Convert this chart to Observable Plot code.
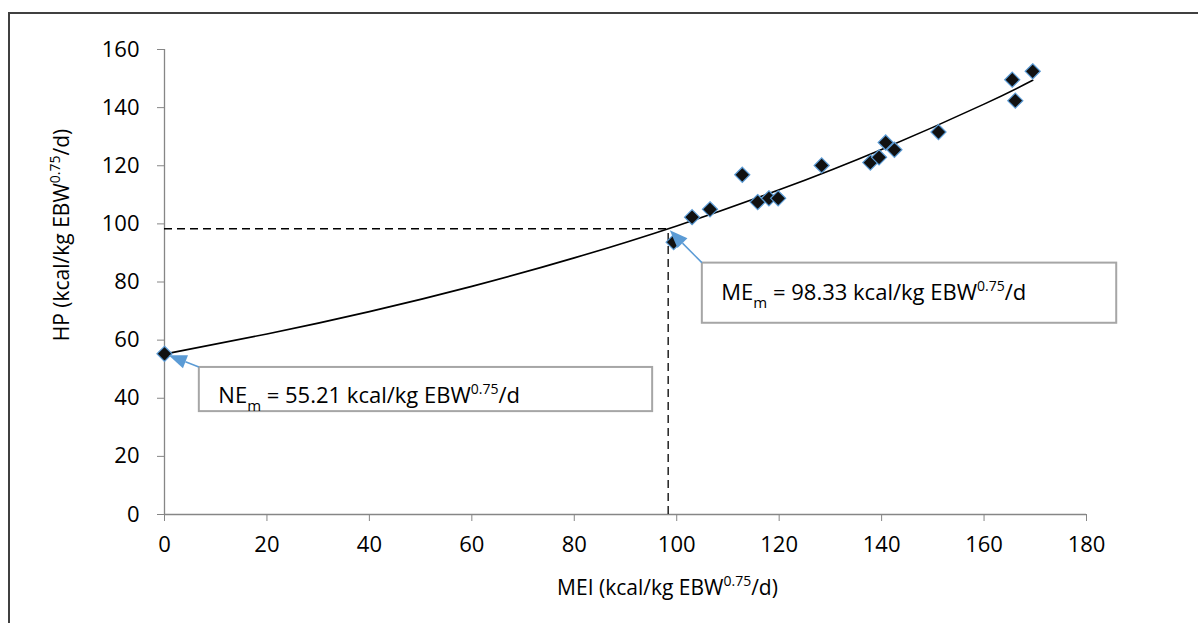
<!DOCTYPE html>
<html>
<head>
<meta charset="utf-8">
<script src="https://cdn.jsdelivr.net/npm/d3@7"></script>
<script src="https://cdn.jsdelivr.net/npm/@observablehq/plot@0.6"></script>
<style>
  html, body { margin: 0; padding: 0; background: #fff; }
  #wrap { position: relative; width: 1198px; height: 623px; overflow: hidden; background: #fff; }
  #frame { position: absolute; left: 8px; top: 12px; width: 1400px; height: 800px;
           border-top: 2px solid #404040; border-left: 2px solid #404040; pointer-events: none; }
  #chart { position: absolute; left: 0; top: 0; }
</style>
</head>
<body>
<div id="wrap"><div id="chart"></div><div id="frame"></div></div>
<script>
// ---- data ----
const MEI = [0, 99.4, 103.0, 106.5, 112.8, 115.8, 118.0, 119.8, 128.3, 137.8, 139.5, 140.8, 142.5, 151.1, 165.5, 166.1, 169.5];
const HP  = [55.3, 93.7, 102.3, 105.0, 116.9, 107.5, 108.8, 108.8, 120.1, 121.1, 122.9, 128.0, 125.5, 131.6, 149.6, 142.4, 152.5];
const fitMEI = [0, 20, 40, 60, 80, 100, 120, 140, 160, 169.5];
const fitHP  = [55.2, 62.1, 69.8, 78.5, 88.3, 99.3, 111.7, 125.6, 141.2, 149.4];
const xTicks = [0, 20, 40, 60, 80, 100, 120, 140, 160, 180];
const yTicks = [0, 20, 40, 60, 80, 100, 120, 140, 160];
const NEm = 55.21;
const MEm = 98.33;
const xTitle = "MEI (kcal/kg EBW^{0.75}/d)";
const yTitle = "HP (kcal/kg EBW^{0.75}/d)";
const noteLabels = ["NE_{m} = 55.21 kcal/kg EBW^{0.75}/d", "ME_{m} = 98.33 kcal/kg EBW^{0.75}/d"];

// ---- tables built from the arrays ----
const points = MEI.map((x, i) => ({x, y: HP[i]}));
const fit = fitMEI.map((x, i) => ({x, y: fitHP[i]}));

// annotation boxes (layout, in data units) and what they point at
const notes = [
  {label: noteLabels[0], x1: 6.8, x2: 95.3, y1: 35.4, y2: 50.6, tx: 0, ty: NEm, off: 5},
  {label: noteLabels[1], x1: 105.0, x2: 185.9, y1: 65.8, y2: 86.5, tx: MEm, ty: MEm, off: 3}
];

const arrows = (index, scales) => {
  const g = d3.create("svg:g");
  for (const n of notes) {
    const ax = scales.x(n.x1), ay = scales.y(n.y2);
    const px = scales.x(n.tx), py = scales.y(n.ty);
    const L = Math.hypot(ax - px, ay - py);
    const ux = (ax - px) / L, uy = (ay - py) / L;
    const tipx = px + ux * n.off, tipy = py + uy * n.off;
    const hl = 18, hw = 7;
    const bx = tipx + ux * hl, by = tipy + uy * hl;
    g.append("line").attr("x1", ax).attr("y1", ay).attr("x2", bx).attr("y2", by)
      .attr("stroke", "#5b9bd5").attr("stroke-width", 1.5);
    g.append("path")
      .attr("d", `M${tipx},${tipy}L${bx - uy * hw},${by + ux * hw}L${bx + uy * hw},${by - ux * hw}Z`)
      .attr("fill", "#5b9bd5");
  }
  return g.node();
};

const FONT = "'Open Sans', 'Noto Sans', sans-serif";
const FS = 22;
const TFS = 21;

const chart = Plot.plot({
  width: 1198,
  height: 623,
  marginLeft: 164,
  marginRight: 112,
  marginTop: 49,
  marginBottom: 109,
  x: {domain: [0, 180]},
  y: {domain: [0, 160]},
  style: {fontFamily: FONT, fontSize: FS + "px", color: "#000", background: "transparent", overflow: "visible"},
  marks: [
    Plot.ruleY([0], {stroke: "#868686", strokeWidth: 1.3}),
    Plot.ruleX([0], {stroke: "#868686", strokeWidth: 1.3}),
    Plot.axisX(xTicks, {tickSize: 7, tickPadding: 15, stroke: "#868686", fill: "#000", fontSize: FS, label: null}),
    Plot.axisY(yTicks, {tickSize: 7, tickPadding: 18, stroke: "#868686", fill: "#000", fontSize: FS, label: null}),
    Plot.ruleY([MEm], {x1: 0, x2: MEm, stroke: "#000", strokeWidth: 1.3, strokeDasharray: "8,5"}),
    Plot.ruleX([MEm], {y1: 0, y2: MEm, stroke: "#000", strokeWidth: 1.3, strokeDasharray: "8,5"}),
    Plot.line(fit, {x: "x", y: "y", curve: "natural", stroke: "#000", strokeWidth: 1.6}),
    Plot.dot(points, {x: "x", y: "y", symbol: "diamond2", r: 6.8, fill: "#111", stroke: "#5b9bd5", strokeWidth: 1.2}),
    Plot.rect(notes, {x1: "x1", x2: "x2", y1: "y1", y2: "y2", fill: "#fff", stroke: "#a6a6a6", strokeWidth: 2, clip: false}),
    arrows,
    Plot.text([notes[0]], {x: "x1", y: (d) => (d.y1 + d.y2) / 2, text: "label", textAnchor: "start", dx: 19, dy: 6, fontSize: FS, fill: "#000"}),
    Plot.text([notes[1]], {x: "x1", y: (d) => (d.y1 + d.y2) / 2, text: "label", textAnchor: "start", dx: 19, dy: 0, fontSize: FS, fill: "#000"}),
    Plot.text([xTitle], {frameAnchor: "bottom", textAnchor: "middle", dx: 42, dy: 80, fontSize: TFS, fill: "#000"}),
    Plot.text([yTitle], {frameAnchor: "left", textAnchor: "middle", dx: -102, dy: -47, rotate: -90, fontSize: TFS, fill: "#000"})
  ]
});

// rich text: ^{..} superscript, _{..} subscript
function richify(svg) {
  svg.querySelectorAll("text").forEach(t => {
    const s = t.textContent;
    if (!/[\^_]\{/.test(s)) return;
    const parts = s.split(/(\^\{[^}]*\}|_\{[^}]*\})/).filter(p => p.length);
    while (t.firstChild) t.removeChild(t.firstChild);
    let shift = 0;
    const ns = "http://www.w3.org/2000/svg";
    for (const p of parts) {
      const ts = document.createElementNS(ns, "tspan");
      let target = 0, txt = p;
      if (p.startsWith("^{")) { target = -9; txt = p.slice(2, -1); ts.setAttribute("font-size", "14"); }
      else if (p.startsWith("_{")) { target = 8; txt = p.slice(2, -1); ts.setAttribute("font-size", "15"); }
      ts.setAttribute("dy", String(target - shift));
      shift = target;
      ts.textContent = txt;
      t.appendChild(ts);
    }
  });
}
richify(chart);
document.getElementById("chart").appendChild(chart);
</script>
</body>
</html>
